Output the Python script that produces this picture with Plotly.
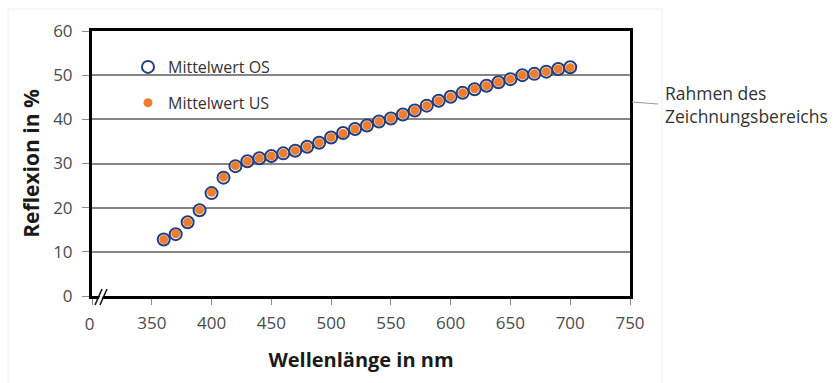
import plotly.graph_objects as go

# ---------------- data ----------------
wavelength_nm = [360, 370, 380, 390, 400, 410, 420, 430, 440, 450, 460, 470,
                 480, 490, 500, 510, 520, 530, 540, 550, 560, 570, 580, 590,
                 600, 610, 620, 630, 640, 650, 660, 670, 680, 690, 700]
mittelwert_os = [12.8, 14.0, 16.7, 19.4, 23.3, 26.8, 29.4, 30.5, 31.2, 31.7, 32.3, 32.9,
                 33.8, 34.7, 35.9, 36.9, 37.8, 38.6, 39.5, 40.2, 41.1, 42.0, 43.1, 44.2,
                 45.1, 46.0, 46.8, 47.6, 48.4, 49.1, 50.0, 50.3, 50.8, 51.4, 51.8]
mittelwert_us = [12.8, 14.1, 16.7, 19.5, 23.5, 26.9, 29.5, 30.5, 31.2, 31.7, 32.3, 32.9,
                 33.8, 34.7, 35.9, 36.8, 37.8, 38.6, 39.5, 40.2, 41.1, 42.0, 43.1, 44.2,
                 45.1, 46.0, 46.9, 47.6, 48.4, 49.1, 50.0, 50.3, 50.8, 51.4, 51.7]
series_names = ["Mittelwert OS", "Mittelwert US"]
x_ticks = [300, 350, 400, 450, 500, 550, 600, 650, 700, 750]
x_ticktext = ["", "350", "400", "450", "500", "550", "600", "650", "700", "750"]
y_ticks = [0, 10, 20, 30, 40, 50, 60]
x_title = "Wellenlänge in nm"
y_title = "Reflexion in %"
callout_text = "Rahmen des<br>Zeichnungsbereichs"

# ---------------- layout helpers ----------------
W, H = 836, 383
L, R, T, B = 92, 630, 31, 296  # plot area in px


def px_x(p):
    return (p - L) / (R - L)


def px_y(p):
    return (B - p) / (B - T)


FONT = "Open Sans"
NAVY = "#213F7F"
ORANGE = "#ED7D31"
TICKCOL = "#4a4a4a"

fig = go.Figure()
fig.add_trace(go.Scatter(
    x=wavelength_nm, y=mittelwert_os, name=series_names[0], mode="markers",
    legendgroup="os",
    marker=dict(symbol="circle", size=12, color="white",
                line=dict(color=NAVY, width=2)),
))
fig.add_trace(go.Scatter(
    x=wavelength_nm, y=mittelwert_us, name=series_names[1], mode="markers",
    legendgroup="us",
    marker=dict(symbol="circle", size=9, color=ORANGE, line=dict(width=0)),
))

shapes = []
# faint outer panel border
shapes.append(dict(type="rect", xref="paper", yref="paper",
                   x0=px_x(8), x1=px_x(662), y0=px_y(9), y1=px_y(390),
                   line=dict(color="#f0f0f0", width=1), layer="below"))
# white box behind legend (interrupts gridline)
shapes.append(dict(type="rect", xref="paper", yref="paper",
                   x0=px_x(122), x1=px_x(275), y0=px_y(112), y1=px_y(55),
                   fillcolor="white", line=dict(width=0), layer="between"))
# axis break "//"
shapes.append(dict(type="path", xref="paper", yref="paper",
                   path=(f"M {px_x(96.5)},{px_y(304)} L {px_x(103)},{px_y(289)} "
                         f"L {px_x(106)},{px_y(289)} L {px_x(99.5)},{px_y(304)} Z"),
                   fillcolor="white", line=dict(width=0), layer="above"))
for dx in (0, 5):
    shapes.append(dict(type="line", xref="paper", yref="paper",
                       x0=px_x(95 + dx), y0=px_y(305), x1=px_x(102 + dx), y1=px_y(289),
                       line=dict(color="#111111", width=1.5), layer="above"))
# callout line
shapes.append(dict(type="line", xref="paper", yref="paper",
                   x0=px_x(632), y0=px_y(102), x1=px_x(658), y1=px_y(104),
                   line=dict(color="#9a9a9a", width=1), layer="above"))

annotations = [
    dict(text=callout_text, xref="paper", yref="paper", x=px_x(663), y=px_y(79),
         xanchor="left", yanchor="top", align="left", showarrow=False,
         font=dict(family=FONT, size=17.5, color="#333333")),
    # partially hidden first tick label
    dict(text="30", xref="paper", yref="paper", x=px_x(96), y=px_y(323),
         xanchor="right", yanchor="middle", showarrow=False,
         font=dict(family=FONT, size=17, color=TICKCOL)),
    dict(text=" ", xref="paper", yref="paper", x=px_x(85), y=px_y(323),
         xanchor="right", yanchor="middle", showarrow=False,
         width=14, height=24, bgcolor="white", borderpad=0),
]

fig.update_layout(
    width=W, height=H,
    margin=dict(l=L, r=W - R, t=T, b=H - B, pad=0),
    paper_bgcolor="white", plot_bgcolor="white",
    font=dict(family=FONT, color=TICKCOL),
    showlegend=True,
    legend=dict(x=px_x(128), y=px_y(50), xanchor="left", yanchor="top",
                bgcolor="rgba(0,0,0,0)", borderwidth=0,
                font=dict(family=FONT, size=16, color="#333333"),
                tracegroupgap=12, itemwidth=30),
    shapes=shapes,
    annotations=annotations,
)

fig.update_xaxes(
    range=[300, 750], tickvals=x_ticks, ticktext=x_ticktext,
    showgrid=False, zeroline=False,
    showline=True, linecolor="black", linewidth=3, mirror=True,
    ticks="outside", ticklen=6, tickcolor="#8c8c8c", tickwidth=1,
    ticklabelstandoff=4,
    tickfont=dict(family=FONT, size=17, color=TICKCOL),
    title=dict(text=f"<b>{x_title}</b>", font=dict(family=FONT, size=20, color="#1a1a1a"),
               standoff=20),
)
fig.update_yaxes(
    range=[0, 60], tickvals=y_ticks,
    showgrid=True, gridcolor="#858585", gridwidth=1.5, zeroline=False,
    showline=True, linecolor="black", linewidth=3, mirror=True,
    ticks="outside", ticklen=7, tickcolor="#8c8c8c", tickwidth=1,
    ticklabelstandoff=6,
    tickfont=dict(family=FONT, size=17, color=TICKCOL),
    title=dict(text=f"<b>{y_title}</b>", font=dict(family=FONT, size=21, color="#1a1a1a"),
               standoff=8),
)

fig.write_html("out.html")
